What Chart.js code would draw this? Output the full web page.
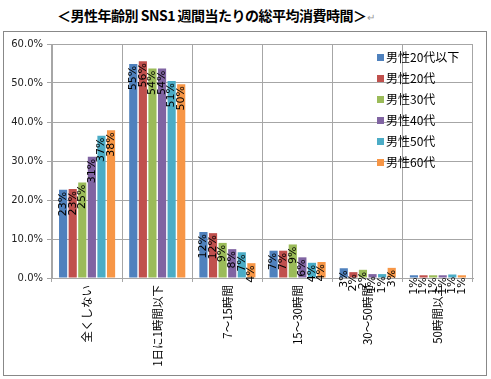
<!DOCTYPE html>
<html><head><meta charset="utf-8">
<script src="https://cdn.jsdelivr.net/npm/chart.js@4"></script>
<style>
html,body{margin:0;padding:0;background:#fff;}
#title{position:absolute;left:57px;top:5px;font-family:"Noto Sans CJK JP";font-weight:bold;font-size:14px;color:#000;white-space:nowrap;letter-spacing:-0.5px;}
#title span{color:#999;font-weight:normal;font-size:10px;}
#frame{position:absolute;left:3px;top:31px;width:482px;height:343px;border:1px solid #888;}
#wrap{position:absolute;left:4px;top:32px;width:482px;height:343px;}
</style></head><body>
<div id="title">＜男性年齢別 SNS1 週間当たりの総平均消費時間＞<span>↵</span></div>
<div id="frame"></div>
<div id="wrap"><canvas id="c" width="482" height="343"></canvas></div>
<script>
const categories = ["全くしない","1日に1時間以下","7～15時間","15～30時間","30～50時間","50時間以上"];
const seriesNames = ["男性20代以下","男性20代","男性30代","男性40代","男性50代","男性60代"];
const s20under = [22.6, 54.9, 11.8, 7.0, 2.5, 0.7];
const s20 = [22.8, 55.6, 11.5, 7.0, 1.5, 0.7];
const s30 = [24.5, 53.7, 9.0, 8.6, 2.1, 0.7];
const s40 = [31.1, 53.7, 7.4, 5.3, 1.0, 0.7];
const s50 = [36.5, 50.5, 6.6, 3.9, 1.0, 0.9];
const s60 = [37.9, 49.7, 3.8, 4.1, 2.6, 0.7];
const labels20under = ["23%","55%","12%","7%","3%","1%"];
const labels20 = ["23%","56%","12%","7%","2%","1%"];
const labels30 = ["25%","54%","9%","9%","2%","1%"];
const labels40 = ["31%","54%","8%","6%","1%","1%"];
const labels50 = ["37%","51%","7%","4%","1%","1%"];
const labels60 = ["38%","50%","4%","4%","3%","1%"];
const yTicks = [0,10,20,30,40,50,60];
const colors = ["#4F81BD","#C0504D","#9BBB59","#8064A2","#4BACC6","#F79646"];

const values = [s20under,s20,s30,s40,s50,s60];
const valLabels = [labels20under,labels20,labels30,labels40,labels50,labels60];

const barLabelPlugin = {
  id:'barLabels',
  afterDatasetsDraw(chart){
    const ctx = chart.ctx;
    ctx.save();
    ctx.font = '11px "DejaVu Sans", sans-serif';
    ctx.fillStyle = '#000';
    ctx.textAlign = 'right';
    ctx.textBaseline = 'middle';
    chart.data.datasets.forEach((ds,i)=>{
      const meta = chart.getDatasetMeta(i);
      meta.data.forEach((bar,j)=>{
        ctx.save();
        ctx.translate(bar.x, bar.y);
        ctx.rotate(-Math.PI/2);
        ctx.fillText(valLabels[i][j], -2, 0);
        ctx.restore();
      });
    });
    ctx.restore();
  }
};

const legendPlugin = {
  id:'customLegend',
  afterDraw(chart){
    const ctx = chart.ctx;
    ctx.save();
    ctx.font = '12px "Noto Sans CJK JP", sans-serif';
    ctx.textBaseline = 'middle';
    ctx.textAlign = 'left';
    const x0 = 373, y0 = 25, dy = 21;
    seriesNames.forEach((n,i)=>{
      const y = y0 + i*dy;
      ctx.fillStyle = colors[i];
      ctx.fillRect(x0, y-3, 7, 7);
      ctx.fillStyle = '#000';
      ctx.fillText(n, x0+9, y);
    });
    ctx.restore();
  }
};

new Chart(document.getElementById('c'), {
  type:'bar',
  data:{
    labels:categories,
    datasets: seriesNames.map((n,i)=>({label:n,data:values[i],backgroundColor:colors[i],borderWidth:0}))
  },
  options:{
    responsive:false,
    animation:false,
    layout:{padding:{top:12,right:13,left:0,bottom:0}},
    plugins:{legend:{display:false},tooltip:{enabled:false}},
    datasets:{bar:{categoryPercentage:0.82,barPercentage:0.85}},
    scales:{
      x:{
        grid:{offset:true,color:'#A6A6A6',lineWidth:1,tickLength:4,drawOnChartArea:true},
        border:{color:'#A6A6A6'},
        ticks:{minRotation:90,maxRotation:90,autoSkip:false,color:'#000',font:{family:'"Noto Sans CJK JP"',size:11.5},padding:3},
        afterFit(s){s.height=97;}
      },
      y:{
        min:0,max:60,
        afterBuildTicks(s){s.ticks = yTicks.map(v=>({value:v}));},
        grid:{color:'#A6A6A6',lineWidth:1,tickLength:5},
        border:{color:'#A6A6A6'},
        ticks:{color:'#222',font:{family:'"DejaVu Sans"',size:10},padding:4,callback:v=>v.toFixed(1)+'%'},
        afterFit(s){s.width=48;}
      }
    }
  },
  plugins:[barLabelPlugin,legendPlugin]
});
</script>
</body></html>
